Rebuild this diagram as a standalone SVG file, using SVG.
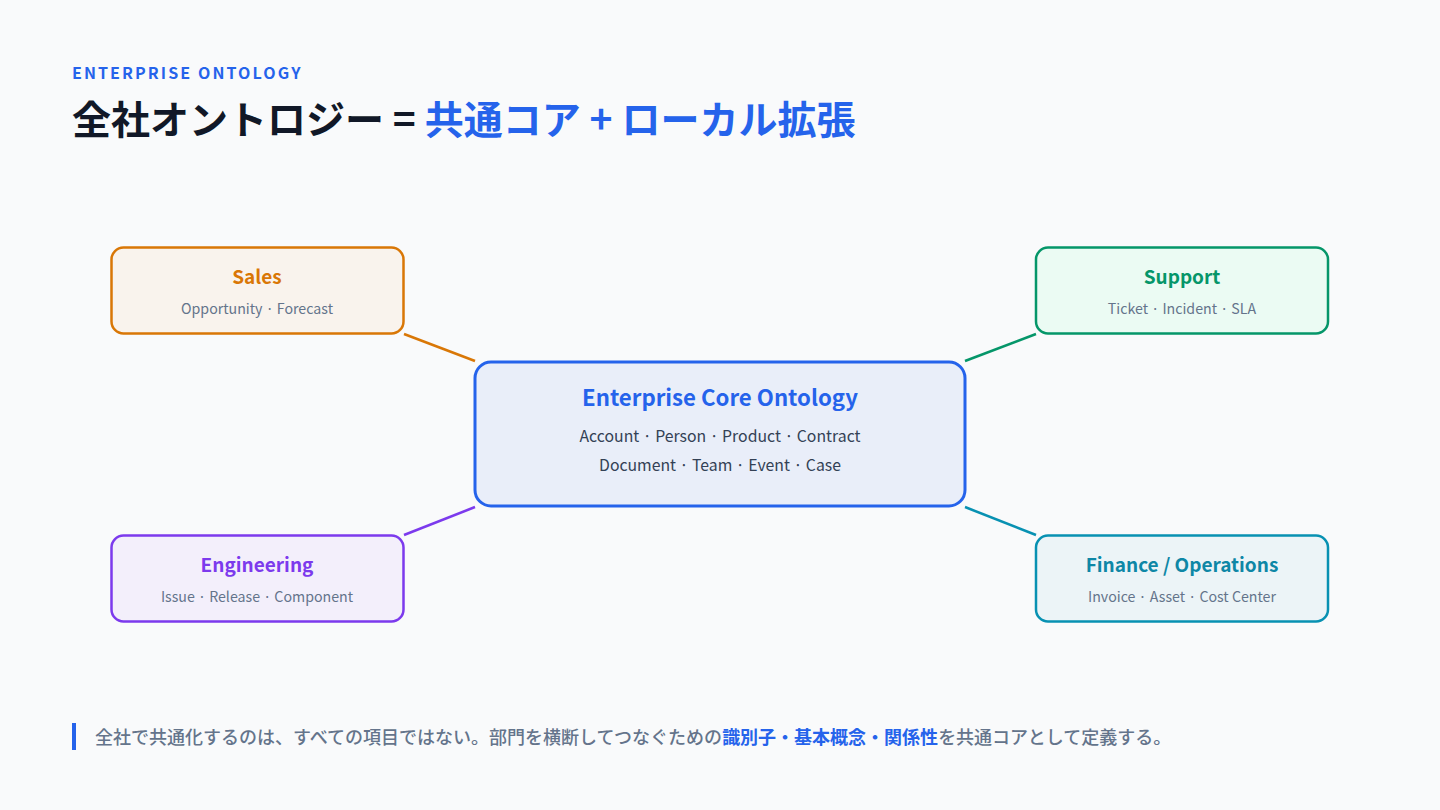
<svg xmlns="http://www.w3.org/2000/svg" width="1440" height="810" viewBox="0 0 1440 810">
<style>
text{font-family:"Noto Sans CJK JP","Noto Sans",sans-serif}
.eyebrow{font-size:16px;font-weight:700;fill:#2563eb;letter-spacing:2.1px}
.title{font-size:39px;font-weight:700;fill:#111827}
.blue{fill:#2563eb}
.box{stroke-width:2.5}
.nt{font-size:19px;font-weight:700;text-anchor:middle}
.ns{font-size:14.2px;fill:#64748b;text-anchor:middle}
.ct{font-size:22.2px;font-weight:700;fill:#2563eb;text-anchor:middle}
.cs{font-size:15.8px;fill:#334155;text-anchor:middle}
.foot{font-size:18px;font-weight:500;fill:#64748b}
.fb{fill:#2563eb;font-weight:700}
.conn line{stroke-width:2.5}
</style>
<rect width="1440" height="810" fill="#f9fafb"/>
<text class="eyebrow" x="72" y="79">ENTERPRISE ONTOLOGY</text>
<text class="title" x="72" y="134">全社オントロジー = <tspan class="blue">共通コア + ローカル拡張</tspan></text>

<g id="connectors" class="conn">
<line x1="404" y1="334" x2="475" y2="361" stroke="#d97706"/>
<line x1="1036" y1="334" x2="965" y2="361" stroke="#059669"/>
<line x1="404" y1="535" x2="475" y2="507" stroke="#7c3aed"/>
<line x1="1036" y1="535" x2="965" y2="507" stroke="#0891b2"/>
</g>

<g id="core">
<rect x="475" y="362" width="490" height="144" rx="16" fill="#e9eef9" stroke="#2563eb" stroke-width="3"/>
<text class="ct" x="720" y="406">Enterprise Core Ontology</text>
<text class="cs" x="720" y="442">Account · Person · Product · Contract</text>
<text class="cs" x="720" y="471">Document · Team · Event · Case</text>
</g>

<g id="sales">
<rect class="box" x="111.5" y="247.5" width="292" height="86" rx="12" fill="#f9f3ed" stroke="#d97706"/>
<text class="nt" x="257" y="284" fill="#d97706">Sales</text>
<text class="ns" x="257" y="314">Opportunity · Forecast</text>
</g>

<g id="support">
<rect class="box" x="1036" y="247.5" width="292" height="86" rx="12" fill="#ebfbf3" stroke="#059669"/>
<text class="nt" x="1182" y="284" fill="#059669">Support</text>
<text class="ns" x="1182" y="314">Ticket · Incident · SLA</text>
</g>

<g id="engineering">
<rect class="box" x="111.5" y="535.5" width="292" height="86" rx="12" fill="#f3effb" stroke="#7c3aed"/>
<text class="nt" x="257" y="572" fill="#7c3aed">Engineering</text>
<text class="ns" x="257" y="602">Issue · Release · Component</text>
</g>

<g id="finance">
<rect class="box" x="1036" y="535.5" width="292" height="86" rx="12" fill="#ecf4f7" stroke="#0891b2"/>
<text class="nt" x="1182" y="572" fill="#0e87a6">Finance / Operations</text>
<text class="ns" x="1182" y="602">Invoice · Asset · Cost Center</text>
</g>

<g id="footer">
<rect x="72" y="723" width="4" height="27" fill="#2563eb"/>
<text class="foot" x="95" y="744">全社で共通化するのは、すべての項目ではない。部門を横断してつなぐための<tspan class="fb">識別子・基本概念・関係性</tspan>を共通コアとして定義する。</text>
</g>
</svg>
